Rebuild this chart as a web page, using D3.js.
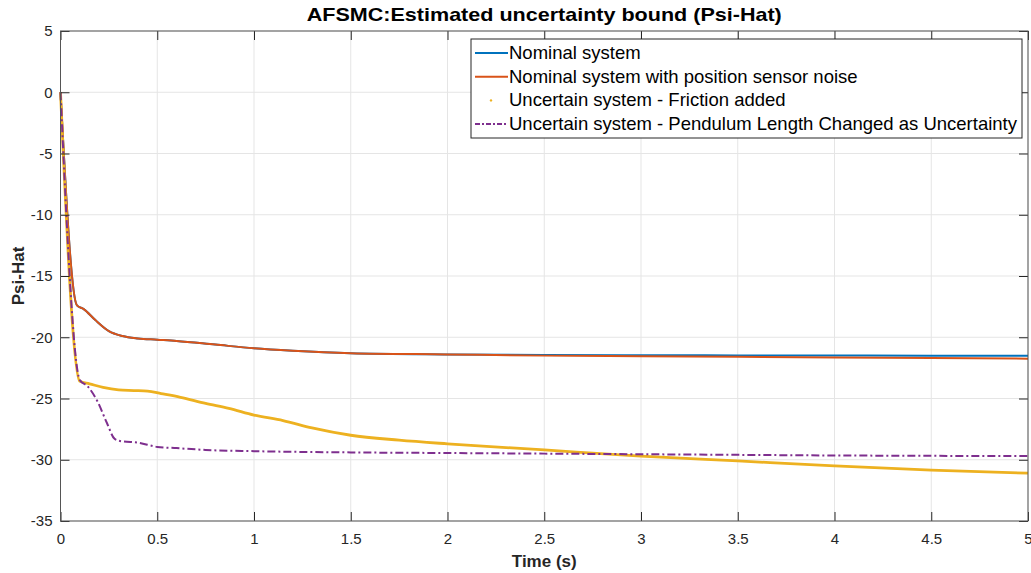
<!DOCTYPE html>
<html>
<head>
<meta charset="utf-8">
<script src="https://cdn.jsdelivr.net/npm/d3@7"></script>
<style>
  body { margin: 0; background: #fff; }
  svg { display: block; font-family: "Liberation Sans", Arial, sans-serif; }
</style>
</head>
<body>
<div id="chart"></div>
<script>
// values
var xTicks = [0, 0.5, 1, 1.5, 2, 2.5, 3, 3.5, 4, 4.5, 5];
var yTicks = [5, 0, -5, -10, -15, -20, -25, -30, -35];

var tNominal = [0, 0.085, 0.12, 0.18, 0.25, 0.32, 0.4, 0.5, 0.6, 0.8, 1.0, 1.2, 1.5, 2.0, 2.5, 3.0, 3.5, 4.0, 4.5, 5.0];
var nominal  = [0, -17.4, -17.7, -18.6, -19.5, -19.9, -20.1, -20.2, -20.3, -20.6, -20.9, -21.1, -21.3, -21.4, -21.45, -21.47, -21.48, -21.49, -21.5, -21.5];
var noisy    = [0, -17.4, -17.7, -18.6, -19.5, -19.9, -20.1, -20.2, -20.3, -20.6, -20.9, -21.1, -21.3, -21.4, -21.5, -21.55, -21.6, -21.65, -21.7, -21.75];

var tFriction = [0, 0.1, 0.15, 0.22, 0.3, 0.38, 0.45, 0.52, 0.62, 0.75, 0.87, 1.0, 1.15, 1.3, 1.5, 1.75, 2.0, 2.5, 3.0, 3.5, 4.0, 4.5, 5.0];
var friction  = [0, -23.6, -23.8, -24.1, -24.3, -24.35, -24.4, -24.6, -24.9, -25.4, -25.8, -26.35, -26.8, -27.4, -28.0, -28.4, -28.7, -29.2, -29.7, -30.1, -30.5, -30.85, -31.1];

var tPendulum = [0, 0.1, 0.14, 0.19, 0.24, 0.28, 0.32, 0.4, 0.5, 0.6, 0.75, 1.0, 1.5, 2.0, 2.5, 3.0, 3.5, 4.0, 4.5, 5.0];
var pendulum  = [0, -23.5, -24.0, -25.2, -27.0, -28.3, -28.5, -28.6, -28.95, -29.05, -29.2, -29.3, -29.4, -29.45, -29.5, -29.55, -29.6, -29.65, -29.68, -29.7];

var seriesNames = ["Nominal system", "Nominal system with position sensor noise",
                   "Uncertain system - Friction added", "Uncertain system - Pendulum Length Changed as Uncertainty"];

var W = 1031, H = 573;
var margin = {top: 31, right: 3, bottom: 52, left: 60.5};
var width = W - margin.left - margin.right;
var height = H - margin.top - margin.bottom;

var svg = d3.select("#chart").append("svg")
    .attr("width", W)
    .attr("height", H);

var g = svg.append("g")
    .attr("transform", "translate(" + margin.left + "," + margin.top + ")");

var x = d3.scaleLinear().domain([0, 5]).range([0, width]);
var y = d3.scaleLinear().domain([-35, 5]).range([height, 0]);

// matlab style labels: plain hyphen for minus
var fmt = function(d) { return String(d); };

// grid
g.append("g").selectAll("line").data(xTicks).enter().append("line")
    .attr("x1", function(d) { return x(d); }).attr("x2", function(d) { return x(d); })
    .attr("y1", 0).attr("y2", height)
    .attr("stroke", "#e5e5e5").attr("stroke-width", 1);
g.append("g").selectAll("line").data(yTicks).enter().append("line")
    .attr("x1", 0).attr("x2", width)
    .attr("y1", function(d) { return y(d); }).attr("y2", function(d) { return y(d); })
    .attr("stroke", "#e5e5e5").attr("stroke-width", 1);

function makeSeries(ts, vs) {
  return ts.map(function(t, i) { return {x: t, y: vs[i]}; });
}

var line = d3.line()
    .x(function(d) { return x(d.x); })
    .y(function(d) { return y(d.y); })
    .curve(d3.curveMonotoneX);

var series = [
  {data: makeSeries(tNominal, nominal), color: "#0072BD", width: 2, dash: null},
  {data: makeSeries(tNominal, noisy), color: "#D95319", width: 2, dash: null},
  {data: makeSeries(tFriction, friction), color: "#EDB120", width: 2.8, dash: null},
  {data: makeSeries(tPendulum, pendulum), color: "#7E2F8E", width: 2, dash: "8,3,2,3"}
];

g.selectAll(".series").data(series).enter().append("path")
    .attr("class", "series")
    .attr("d", function(d) { return line(d.data); })
    .attr("fill", "none")
    .attr("stroke", function(d) { return d.color; })
    .attr("stroke-width", function(d) { return d.width; })
    .attr("stroke-dasharray", function(d) { return d.dash; });

// axes (ticks inside, box on)
var tickCol = "#262626";
g.append("g")
    .attr("transform", "translate(0," + height + ")")
    .call(d3.axisBottom(x).tickValues(xTicks).tickSize(-9).tickPadding(12).tickFormat(fmt))
    .call(function(a) {
      a.select(".domain").remove();
      a.selectAll("line").attr("stroke", tickCol);
      a.selectAll("text").attr("fill", tickCol).style("font-size", "15px");
    });
g.append("g")
    .call(d3.axisTop(x).tickValues(xTicks).tickSize(-9).tickFormat(""))
    .call(function(a) {
      a.select(".domain").remove();
      a.selectAll("line").attr("stroke", tickCol);
    });
g.append("g")
    .call(d3.axisLeft(y).tickValues(yTicks).tickSize(-9).tickPadding(8).tickFormat(fmt))
    .call(function(a) {
      a.select(".domain").remove();
      a.selectAll("line").attr("stroke", tickCol);
      a.selectAll("text").attr("fill", tickCol).style("font-size", "15px");
    });
g.append("g")
    .attr("transform", "translate(" + width + ",0)")
    .call(d3.axisRight(y).tickValues(yTicks).tickSize(-9).tickFormat(""))
    .call(function(a) {
      a.select(".domain").remove();
      a.selectAll("line").attr("stroke", tickCol);
    });

g.append("rect")
    .attr("x", 0).attr("y", 0)
    .attr("width", width).attr("height", height)
    .attr("fill", "none")
    .attr("stroke", "#555")
    .attr("stroke-width", 1);

// labels
svg.append("text")
    .attr("x", margin.left + width / 2)
    .attr("y", 21)
    .attr("text-anchor", "middle")
    .attr("textLength", 475)
    .attr("lengthAdjust", "spacingAndGlyphs")
    .style("font-size", "19px")
    .style("font-weight", "bold")
    .attr("fill", "#000")
    .text("AFSMC:Estimated uncertainty bound (Psi-Hat)");

svg.append("text")
    .attr("x", margin.left + width / 2)
    .attr("y", 567)
    .attr("text-anchor", "middle")
    .style("font-size", "17px")
    .style("font-weight", "bold")
    .attr("fill", tickCol)
    .text("Time (s)");

svg.append("text")
    .attr("transform", "translate(24," + (margin.top + height / 2) + ") rotate(-90)")
    .attr("text-anchor", "middle")
    .style("font-size", "17px")
    .style("font-weight", "bold")
    .attr("fill", tickCol)
    .text("Psi-Hat");

// legend
var legend = svg.append("g").attr("transform", "translate(471,39)");
legend.append("rect")
    .attr("x", 0).attr("y", 0)
    .attr("width", 551).attr("height", 99)
    .attr("fill", "#fff")
    .attr("stroke", "#262626")
    .attr("stroke-width", 1);

var rows = legend.selectAll(".row").data(series).enter().append("g")
    .attr("class", "row")
    .attr("transform", function(d, i) { return "translate(0," + (14 + i * 23.7) + ")"; });

rows.filter(function(d, i) { return i !== 2; }).append("line")
    .attr("x1", 4).attr("x2", 37)
    .attr("y1", 0).attr("y2", 0)
    .attr("stroke", function(d) { return d.color; })
    .attr("stroke-width", 2)
    .attr("stroke-dasharray", function(d) { return d.dash ? "5,2,2,2" : null; });
rows.filter(function(d, i) { return i === 2; }).append("circle")
    .attr("cx", 20).attr("cy", 0).attr("r", 1.2)
    .attr("fill", function(d) { return d.color; });

rows.append("text")
    .attr("x", 38)
    .attr("y", 6)
    .style("font-size", "18.5px")
    .attr("fill", "#000")
    .text(function(d, i) { return seriesNames[i]; });
</script>
</body>
</html>
